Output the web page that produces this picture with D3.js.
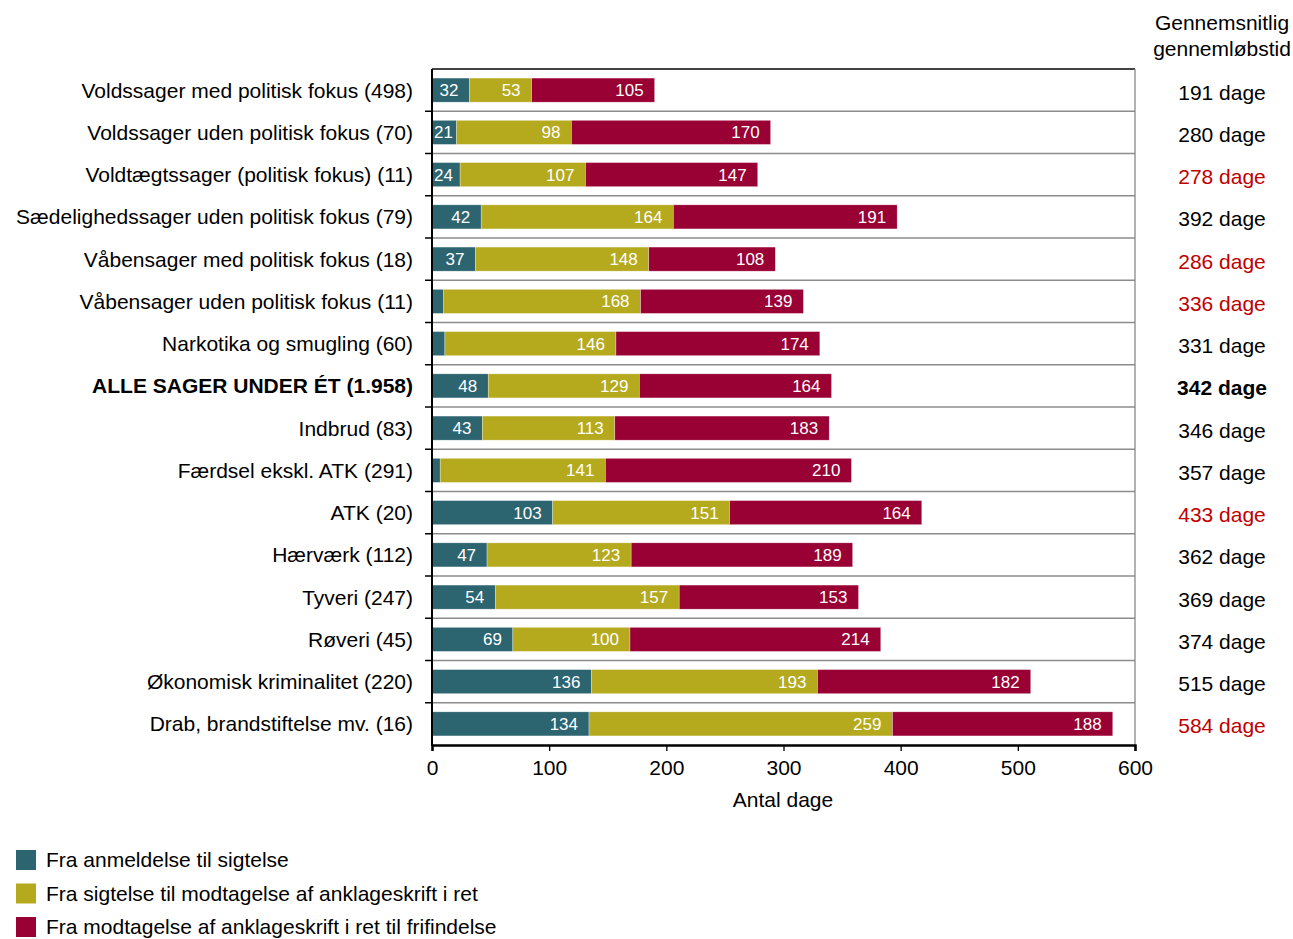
<!DOCTYPE html>
<html><head><meta charset="utf-8">
<script src="https://cdn.jsdelivr.net/npm/d3@7"></script>
<style>body{margin:0;background:#fff;} svg{display:block;font-family:Arial,"Liberation Sans",sans-serif;}</style>
</head><body>
<script>
const categories = [
 "Voldssager med politisk fokus (498)",
 "Voldssager uden politisk fokus (70)",
 "Voldtægtssager (politisk fokus) (11)",
 "Sædelighedssager uden politisk fokus (79)",
 "Våbensager med politisk fokus (18)",
 "Våbensager uden politisk fokus (11)",
 "Narkotika og smugling (60)",
 "ALLE SAGER UNDER ÉT (1.958)",
 "Indbrud (83)",
 "Færdsel ekskl. ATK (291)",
 "ATK (20)",
 "Hærværk (112)",
 "Tyveri (247)",
 "Røveri (45)",
 "Økonomisk kriminalitet (220)",
 "Drab, brandstiftelse mv. (16)"
];
const seriesNames = [
 "Fra anmeldelse til sigtelse",
 "Fra sigtelse til modtagelse af anklageskrift i ret",
 "Fra modtagelse af anklageskrift i ret til frifindelse"
];
const anmeldelseSigtelse = [32,21,24,42,37,10,11,48,43,7,103,47,54,69,136,134];
const sigtelseAnklageskrift = [53,98,107,164,148,168,146,129,113,141,151,123,157,100,193,259];
const anklageskriftFrifindelse = [105,170,147,191,108,139,174,164,183,210,164,189,153,214,182,188];
const avgDays = [191,280,278,392,286,336,331,342,346,357,433,362,369,374,515,584];
const avgHighlighted = [false,false,true,false,true,true,false,false,false,false,true,false,false,false,false,true];
const boldRow = "ALLE SAGER UNDER ÉT (1.958)";
const xTicks = [0,100,200,300,400,500,600];
const colors = ["#2c6470","#b5a91e","#990033"];

const W=1293,H=939, FS=21;
const svg=d3.select("body").append("svg").attr("width",W).attr("height",H);
const x=d3.scaleLinear().domain([0,600]).range([432,1135]);
const y=d3.scaleBand().domain(categories).range([69,745]).paddingInner(0.43).paddingOuter(0.215);
const rows=d3.scaleBand().domain(categories).range([69,745]);

const data=categories.map((c,i)=>({cat:c,s0:anmeldelseSigtelse[i],s1:sigtelseAnklageskrift[i],s2:anklageskriftFrifindelse[i]}));
const stack=d3.stack().keys(["s0","s1","s2"])(data);

// row separators
svg.append("g").selectAll("line").data(categories.slice(1)).join("line")
 .attr("x1",432).attr("x2",1135).attr("y1",d=>rows(d)).attr("y2",d=>rows(d))
 .attr("stroke","#8c8c8c").attr("stroke-width",1.3);
// top and right border
svg.append("line").attr("x1",432).attr("x2",1135).attr("y1",69).attr("y2",69).attr("stroke","#444").attr("stroke-width",2);
svg.append("line").attr("x1",1135).attr("x2",1135).attr("y1",69).attr("y2",745).attr("stroke","#888").attr("stroke-width",1.3);

// bars
const gs=svg.append("g").selectAll("g").data(stack).join("g").attr("fill",(d,i)=>colors[i]);
gs.selectAll("rect").data(d=>d).join("rect")
 .attr("x",d=>x(d[0])).attr("width",d=>x(d[1])-x(d[0]))
 .attr("y",d=>y(d.data.cat)).attr("height",y.bandwidth())
 .attr("stroke","#fff").attr("stroke-opacity",0.5).attr("stroke-width",0.6);

// bar labels
stack.forEach((layer,li)=>{
 layer.forEach(d=>{
  const v=d[1]-d[0];
  if(v<15) return;
  const t=svg.append("text").attr("fill","#fff").attr("font-size",17)
   .attr("y",y(d.data.cat)+y.bandwidth()/2).attr("dy","0.36em").text(v);
  const tw=t.node().getComputedTextLength();
  let xe=x(d[1])-11;
  if(xe-tw<x(d[0])+2) xe=x(d[0])+2+tw;
  t.attr("x",xe).attr("text-anchor","end");
 });
});

// category labels
svg.append("g").selectAll("text").data(categories).join("text")
 .attr("x",413).attr("y",d=>rows(d)+rows.bandwidth()/2).attr("dy","0.36em")
 .attr("text-anchor","end").attr("font-size",FS).attr("fill","#000")
 .attr("font-weight",d=>d===boldRow?"bold":"normal").text(d=>d);

// avg column
svg.append("g").selectAll("text").data(categories).join("text")
 .attr("x",1222).attr("y",d=>rows(d)+rows.bandwidth()/2+2).attr("dy","0.36em")
 .attr("text-anchor","middle").attr("font-size",FS)
 .attr("fill",(d,i)=>avgHighlighted[i]?"#c00000":"#000")
 .attr("font-weight",d=>d===boldRow?"bold":"normal")
 .text((d,i)=>avgDays[i]+" dage");
svg.append("text").attr("x",1222).attr("y",30).attr("text-anchor","middle").attr("font-size",FS).text("Gennemsnitlig");
svg.append("text").attr("x",1222).attr("y",56).attr("text-anchor","middle").attr("font-size",FS).text("gennemløbstid");

// left axis
const yAxis=svg.append("g").attr("transform","translate(432,0)");
yAxis.append("line").attr("x1",0).attr("x2",0).attr("y1",69).attr("y2",746).attr("stroke","#000").attr("stroke-width",2);
yAxis.selectAll("line.t").data(categories.slice(1)).join("line").attr("class","t")
 .attr("x1",-7).attr("x2",0).attr("y1",d=>rows(d)).attr("y2",d=>rows(d)).attr("stroke","#000").attr("stroke-width",1.5);

// bottom axis
const xAxis=svg.append("g").attr("transform","translate(0,745)")
 .call(d3.axisBottom(x).tickValues(xTicks).tickSize(6).tickFormat(d3.format("d")));
xAxis.select(".domain").attr("stroke","#000").attr("stroke-width",2.5);
xAxis.selectAll(".tick line").attr("stroke","#000").attr("stroke-width",1.3);
xAxis.selectAll(".tick text").attr("font-size",FS).attr("font-family","Arial,'Liberation Sans',sans-serif").attr("fill","#000").attr("y",15).attr("dy","0.71em");
svg.append("text").attr("x",783).attr("y",807).attr("text-anchor","middle").attr("font-size",FS).text("Antal dage");

// legend
const lg=svg.append("g").selectAll("g").data(seriesNames).join("g")
 .attr("transform",(d,i)=>`translate(16,${850+i*33.5})`);
lg.append("rect").attr("width",20).attr("height",20).attr("fill",(d,i)=>colors[i]);
lg.append("text").attr("x",30).attr("y",10).attr("dy","0.34em").attr("font-size",FS).text(d=>d);
</script>
</body></html>
